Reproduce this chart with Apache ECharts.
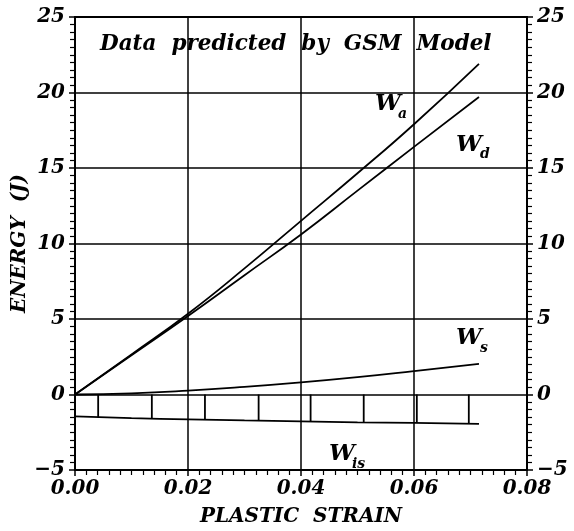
<!DOCTYPE html>
<html>
<head>
<meta charset="utf-8">
<script src="https://cdn.jsdelivr.net/npm/echarts@6/dist/echarts.min.js"></script>
<style>
html,body{margin:0;padding:0;background:#fff;}
#chart{width:574px;height:531px;}
</style>
</head>
<body>
<div id="chart"></div>
<script>
// ---- data ----
const strain = [0, 0.01, 0.02, 0.03, 0.04, 0.05, 0.06, 0.0715];
const Wa  = [0, 2.65, 5.35, 8.35, 11.5, 14.65, 17.9, 21.9];
const Wd  = [0, 2.6, 5.2, 7.9, 10.6, 13.5, 16.4, 19.7];
const Ws  = [0, 0.07, 0.25, 0.5, 0.8, 1.15, 1.55, 2.03];
const Wis = [-1.45, -1.57, -1.65, -1.72, -1.78, -1.84, -1.88, -1.95];
const wisTickX = [0.0041, 0.0136, 0.0230, 0.0325, 0.0417, 0.0511, 0.0605, 0.0697];
const wisTickY = [-1.52, -1.61, -1.67, -1.72, -1.78, -1.83, -1.87, -1.93];
const xTicks = [0, 0.02, 0.04, 0.06, 0.08];
const yTicks = [-5, 0, 5, 10, 15, 20, 25];
const title = 'Data  predicted  by  GSM  Model';

const font = 'DejaVu Serif';
const pair = (ys) => strain.map((x, i) => [x, ys[i]]);
const lineStyle = {color: '#000', width: 1.8};

const chart = echarts.init(document.getElementById('chart'));
const labelStyle = {color: '#000', fontFamily: font, fontStyle: 'italic', fontWeight: 'bold', fontSize: 20};
const yAxisBase = {
  type: 'value', min: yTicks[0], max: yTicks[yTicks.length - 1], interval: 5,
  axisLine: {show: true, lineStyle: {color: '#000', width: 2}},
  axisTick: {show: true, length: 6, lineStyle: {color: '#000', width: 1.5}},
  minorTick: {show: true, splitNumber: 10, length: 5, lineStyle: {color: '#000', width: 1.2}},
  axisLabel: Object.assign({margin: 10, formatter: v => String(v).replace('-', '\u2212')}, labelStyle),
};
const txt = (left, top, text, size) => ({type: 'text', left, top,
  style: {text, fill: '#000', font: 'italic bold ' + size + 'px "DejaVu Serif"'}});
chart.setOption({
  animation: false,
  backgroundColor: '#fff',
  grid: {left: 75, right: 47, top: 17, bottom: 61, show: true, borderColor: '#000', borderWidth: 2,
         containLabel: false, outerBoundsMode: 'none'},
  xAxis: {
    type: 'value', min: xTicks[0], max: xTicks[xTicks.length - 1], interval: 0.02,
    name: 'PLASTIC  STRAIN', nameLocation: 'middle', nameGap: 37,
    nameTextStyle: Object.assign({}, labelStyle, {fontSize: 20}),
    axisLine: {show: true, onZero: false, lineStyle: {color: '#000', width: 2}},
    axisTick: {show: true, length: 6, lineStyle: {color: '#000', width: 1.5}},
    minorTick: {show: true, splitNumber: 10, length: 5, lineStyle: {color: '#000', width: 1.2}},
    axisLabel: Object.assign({margin: 9, formatter: v => v.toFixed(2)}, labelStyle),
    splitLine: {show: true, lineStyle: {color: '#000', width: 1.5}}
  },
  yAxis: [
    Object.assign({}, yAxisBase, {
      position: 'left',
      name: 'ENERGY  (J)', nameLocation: 'middle', nameGap: 45, nameRotate: 90, nameMoveOverlap: false,
      nameTextStyle: Object.assign({}, labelStyle, {fontSize: 20}),
      splitLine: {show: true, lineStyle: {color: '#000', width: 1.5}}
    }),
    Object.assign({}, yAxisBase, {position: 'right', splitLine: {show: false}})
  ],
  series: [
    {type: 'line', data: pair(Wa), symbol: 'none', smooth: true, lineStyle},
    {type: 'line', data: pair(Wd), symbol: 'none', smooth: true, lineStyle},
    {type: 'line', data: pair(Ws), symbol: 'none', smooth: true, lineStyle},
    {type: 'line', data: pair(Wis), symbol: 'none', smooth: true, lineStyle},
    {
      type: 'custom',
      data: wisTickX.map((x, i) => [x, wisTickY[i]]),
      renderItem: (params, api) => {
        const p0 = api.coord([api.value(0), 0]);
        const p1 = api.coord([api.value(0), api.value(1)]);
        return {type: 'line', shape: {x1: p0[0], y1: p0[1], x2: p1[0], y2: p1[1]},
                style: {stroke: '#000', lineWidth: 1.8}};
      }
    }
  ],
  graphic: [
    txt(100, 33, title, 21.5),
    txt(375, 93, 'W', 23), txt(398, 107, 'a', 14),
    txt(456, 134, 'W', 23), txt(480, 147, 'd', 14),
    txt(456, 327, 'W', 23), txt(480, 341, 's', 14),
    txt(329, 443, 'W', 23), txt(352, 457, 'is', 14)
  ]
});
</script>
</body>
</html>
